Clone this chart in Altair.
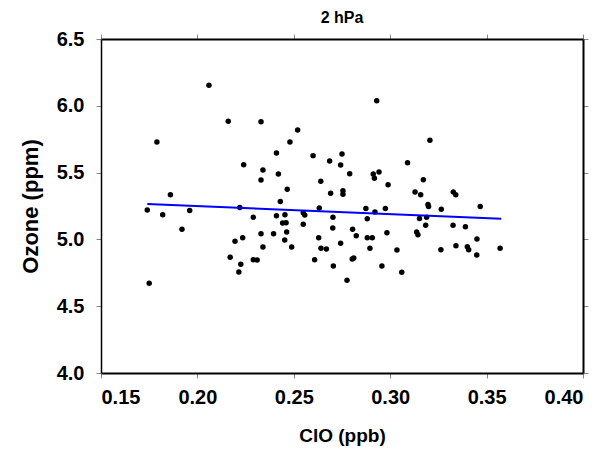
import altair as alt
import pandas as pd

clo = [0.206, 0.216, 0.233, 0.179, 0.241, 0.224, 0.234, 0.233, 0.242, 0.186,
       0.243, 0.174, 0.196, 0.222, 0.182, 0.192, 0.229, 0.241, 0.233, 0.2395,
       0.2195, 0.2235, 0.234, 0.217, 0.2225, 0.2215, 0.229, 0.231, 0.175, 0.293,
       0.252, 0.248, 0.260, 0.275, 0.2686, 0.2743, 0.3206, 0.309, 0.279, 0.2912,
       0.2942, 0.2918, 0.3172, 0.264, 0.2989, 0.2466, 0.2691, 0.2755, 0.2755, 0.3129,
       0.3158, 0.3196, 0.3199, 0.2632, 0.2874, 0.2975, 0.2454, 0.2442, 0.246, 0.2463,
       0.2453, 0.2489, 0.2549, 0.2557, 0.2549, 0.2703, 0.2702, 0.2629, 0.2641, 0.2669,
       0.2608, 0.2705, 0.2743, 0.2805, 0.2824, 0.2803, 0.2811, 0.2776, 0.2881, 0.2921,
       0.2881, 0.2907, 0.2895, 0.2983, 0.2957, 0.3035, 0.306, 0.3137, 0.3144, 0.3152,
       0.3189, 0.3184, 0.3327, 0.334, 0.3265, 0.3467, 0.3326, 0.339, 0.345, 0.3263,
       0.3341, 0.340, 0.3407, 0.3449, 0.357]
ozone = [6.153, 5.884, 5.881, 5.729, 5.647, 5.559, 5.519, 5.445, 5.490, 5.335,
         5.284, 5.220, 5.216, 5.239, 5.185, 5.076, 5.165, 5.177, 5.043, 5.043,
         4.986, 5.013, 4.943, 4.866, 4.814, 4.756, 4.848, 4.846, 4.671, 6.038,
         5.819, 5.729, 5.627, 5.639, 5.587, 5.557, 5.742, 5.574, 5.492, 5.490,
         5.504, 5.457, 5.447, 5.435, 5.409, 5.375, 5.345, 5.365, 5.338, 5.355,
         5.335, 5.261, 5.246, 5.235, 5.231, 5.231, 5.185, 5.123, 5.125, 5.055,
         4.996, 4.943, 5.200, 5.183, 5.113, 5.165, 5.085, 5.013, 4.933, 4.928,
         4.848, 4.801, 4.971, 5.076, 5.028, 4.853, 4.861, 4.694, 5.155, 5.205,
         5.013, 5.013, 4.933, 5.050, 4.801, 4.921, 4.754, 5.055, 5.035, 5.156,
         5.165, 5.106, 5.355, 5.335, 5.226, 5.246, 5.106, 5.095, 5.003, 4.923,
         4.953, 4.945, 4.923, 4.883, 4.933]

fit_clo = [0.174, 0.3576]
fit_ozone = [5.265, 5.155]

x_ticks = [0.15, 0.20, 0.25, 0.30, 0.35, 0.40]
y_ticks = [4.0, 4.5, 5.0, 5.5, 6.0, 6.5]

pts = pd.DataFrame({"clo": clo, "ozone": ozone})
fit = pd.DataFrame({"clo": fit_clo, "ozone": fit_ozone})

FONT = "Liberation Sans"
xscale = alt.Scale(domain=[0.15, 0.40], nice=False, zero=False)
yscale = alt.Scale(domain=[4.0, 6.5], nice=False, zero=False)

common_axis = dict(domainColor="black", tickColor="#888888", tickWidth=1, tickSize=5,
                   grid=False, labelFont=FONT, labelFontSize=20, labelFontWeight="bold",
                   labelColor="black", titleFont=FONT, titleFontWeight="bold", titleColor="black")

points = alt.Chart(pts).mark_circle(size=30, color="black", opacity=1).encode(
    x=alt.X("clo:Q", scale=xscale,
            axis=alt.Axis(values=x_ticks, format=".2f", title="ClO (ppb)", titleFontSize=19,
                          labelPadding=9, titlePadding=19, domainWidth=2, orient="bottom",
                          **common_axis)),
    y=alt.Y("ozone:Q", scale=yscale,
            axis=alt.Axis(values=y_ticks, format=".1f", title="Ozone (ppm)", titleFontSize=22,
                          labelPadding=12, titlePadding=14, domainWidth=1.5, orient="left",
                          **common_axis)),
)

line = alt.Chart(fit).mark_line(color="#0000ff", strokeWidth=2).encode(
    x=alt.X("clo:Q", scale=xscale,
            axis=alt.Axis(values=x_ticks, labels=False, title=None, orient="top",
                          domainWidth=2, **common_axis)),
    y=alt.Y("ozone:Q", scale=yscale,
            axis=alt.Axis(values=y_ticks, labels=False, title=None, orient="right",
                          domainWidth=2, **common_axis)),
)

chart = alt.layer(points, line).resolve_axis(x="independent", y="independent").properties(
    width=482, height=334,
    padding={"left": 101, "top": 39, "right": 30, "bottom": 77},
    autosize=alt.AutoSizeParams(type="none"),
    title=alt.TitleParams("2 hPa", font=FONT, fontSize=16, fontWeight="bold", color="black",
                          offset=3),
).configure_view(stroke=None)

chart.save("out.html", embed_options={"renderer": "svg", "actions": False})
